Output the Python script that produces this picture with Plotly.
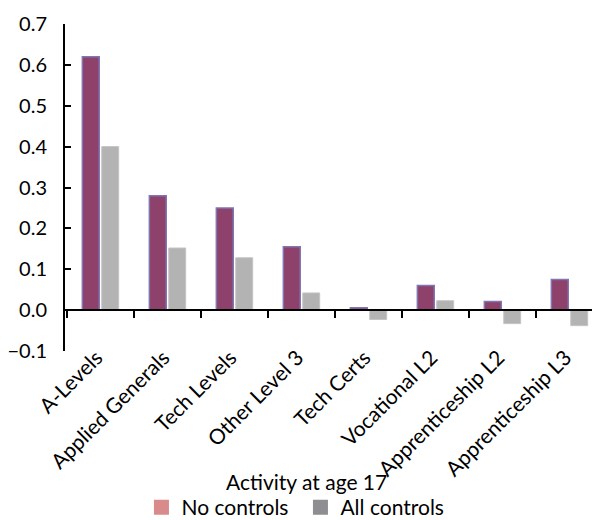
import plotly.graph_objects as go

categories = ["A-Levels", "Applied Generals", "Tech Levels", "Other Level 3",
              "Tech Certs", "Vocational L2", "Apprenticeship L2", "Apprenticeship L3"]
no_controls = [0.62, 0.28, 0.25, 0.155, 0.006, 0.06, 0.021, 0.075]
all_controls = [0.40, 0.152, 0.128, 0.042, -0.023, 0.023, -0.033, -0.038]
y_ticks = [-0.1, 0.0, 0.1, 0.2, 0.3, 0.4, 0.5, 0.6, 0.7]

FONT = "Lato"

fig = go.Figure()
fig.add_trace(go.Bar(x=categories, y=no_controls, name="No controls",
                     marker=dict(color="#8e426b", line=dict(color="#7f76b2", width=1.5)),
                     showlegend=False))
fig.add_trace(go.Bar(x=categories, y=all_controls, name="All controls",
                     marker=dict(color="#b3b3b3", line=dict(color="#c4c4c4", width=1)),
                     showlegend=False))
# legend swatches
fig.add_trace(go.Scatter(x=[None], y=[None], name="No controls", mode="markers",
                         marker=dict(symbol="square", size=15, color="#d98a8a")))
fig.add_trace(go.Scatter(x=[None], y=[None], name="All controls", mode="markers",
                         marker=dict(symbol="square", size=15, color="#8e8e92")))

fig.update_layout(
    width=592, height=520,
    margin=dict(l=57, r=0, t=16, b=177, autoexpand=False),
    paper_bgcolor="white", plot_bgcolor="white",
    font=dict(family=FONT, size=21, color="black"),
    barmode="group", bargap=0.42, bargroupgap=0.13,
    showlegend=True,
    legend=dict(orientation="h", xref="container", yref="container",
                x=0.494, xanchor="center", y=0.0, yanchor="bottom",
                font=dict(size=21), traceorder="normal",
                entrywidth=114, entrywidthmode="pixels"),
    xaxis=dict(type="category", range=[-0.53, 7.455], automargin=False,
               anchor="free", position=0.125,
               showline=True, linecolor="black", linewidth=2,
               ticks="outside", ticklen=7, tickwidth=2, tickcolor="black",
               tickson="boundaries", tickangle=-45,
               ticklabelstandoff=26, ticklabelshift=-4,
               tickfont=dict(size=21), showgrid=False, zeroline=False),
    yaxis=dict(range=[-0.1, 0.7], tickvals=y_ticks, tickformat=".1f", automargin=False,
               showline=True, linecolor="black", linewidth=2,
               ticks="inside", ticklen=6, tickwidth=2, tickcolor="black",
               ticklabelstandoff=12,
               tickfont=dict(size=20), showgrid=False, zeroline=False),
    annotations=[dict(text="Activity at age 17", xref="paper", yref="paper",
                      x=0.452, y=-0.40, xanchor="center", yanchor="middle",
                      showarrow=False, font=dict(size=21))],
)

fig.write_html("out.html")
